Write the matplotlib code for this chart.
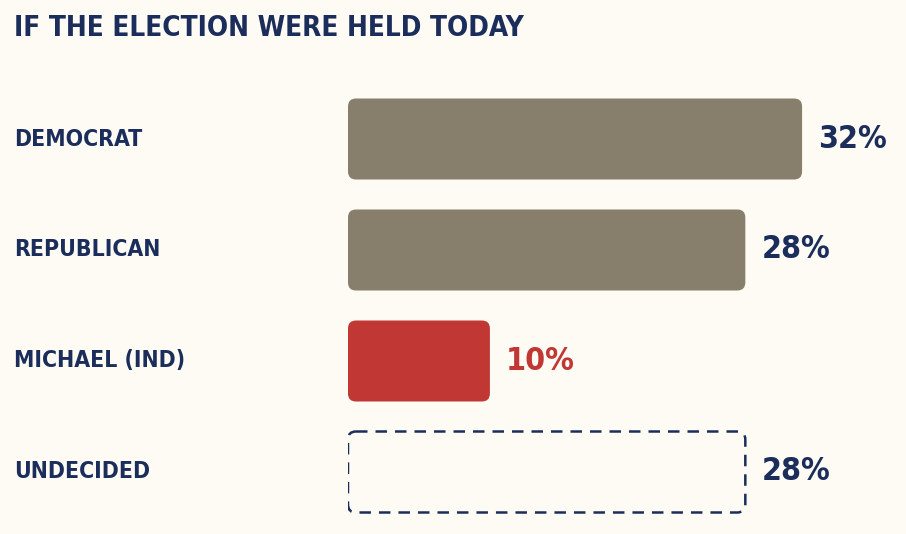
import matplotlib.pyplot as plt
from matplotlib.patches import FancyBboxPatch

categories = ['DEMOCRAT', 'REPUBLICAN', 'MICHAEL (IND)', 'UNDECIDED']
values = [32, 28, 10, 28]
bar_colors = ['#877F6C', '#877F6C', '#C13734', 'none']
label_colors = ['#1B2D5A', '#1B2D5A', '#C13734', '#1B2D5A']
dashed = [False, False, False, True]

navy = '#1B2D5A'
bg = '#FEFBF4'
font = ['DejaVu Sans']

fig = plt.figure(figsize=(9.06, 5.34), dpi=100)
fig.patch.set_facecolor(bg)

# axes starts where the bars start; 14.19 px per percent
ax = fig.add_axes([348 / 906, 0, 558 / 906, 1])
ax.set_facecolor(bg)
px_per_pct = 14.19
ax.set_xlim(0, 558 / px_per_pct)
row = 111
ax.set_ylim((534 - 139) / row, -139 / row)
ax.axis('off')

h = 81 / row
rx = 8 / px_per_pct
aspect = (8 / row) / rx

for i, (v, c, d) in enumerate(zip(values, bar_colors, dashed)):
    if d:
        p = FancyBboxPatch((0, i - h / 2), v, h,
                           boxstyle=f'round,pad=0,rounding_size={rx}',
                           mutation_aspect=aspect, facecolor='none',
                           edgecolor=navy, linewidth=1.8,
                           linestyle=(0, (4.6, 3.2)))
    else:
        p = FancyBboxPatch((0, i - h / 2), v, h,
                           boxstyle=f'round,pad=0,rounding_size={rx}',
                           mutation_aspect=aspect, facecolor=c,
                           edgecolor='none')
    ax.add_patch(p)
    ax.text(v + 16 / px_per_pct, i, f'{v}%', color=label_colors[i],
            fontsize=23, fontweight='bold', family=font, fontstretch='condensed',
            ha='left', va='center')
    fig.text(14 / 906, 1 - (139 + row * i) / 534, categories[i], color=navy,
             fontsize=16.5, fontweight='bold', family=font, fontstretch='condensed',
             ha='left', va='center')

fig.text(14 / 906, 1 - 28 / 534, 'IF THE ELECTION WERE HELD TODAY',
         color=navy, fontsize=20, fontweight='bold', family=font,
         fontstretch='condensed', ha='left', va='center')

plt.savefig('out.png', dpi=100, facecolor=bg)
plt.close()
